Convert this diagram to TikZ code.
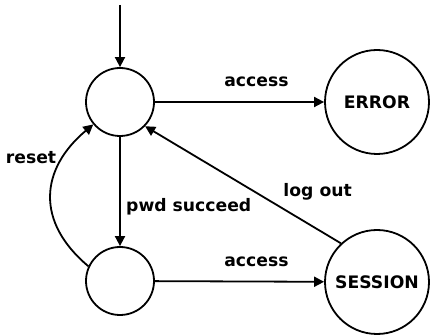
\documentclass[tikz,border=0pt]{standalone}
\usepackage{fontspec}
\setmainfont{DejaVu Sans}
\usepackage{tikz}
\usetikzlibrary{arrows.meta}

\tikzset{
  stnode/.style={draw, circle, line width=1.8pt, inner sep=0pt},
  trans/.style={-{Triangle[length=10pt,width=10pt]}, line width=1.8pt},
  lbl/.style={font=\bfseries\fontsize{17.2}{20}\selectfont}
}

\begin{document}
\begin{tikzpicture}[x=1pt,y=1pt]
        
        \useasboundingbox (0,0) rectangle (430,334);
        
        % states
        \node[stnode, minimum size=68pt] (s0) at (120,232) {};
        \node[stnode, minimum size=68pt] (s1) at (120,53) {};
        \node[stnode, lbl, minimum size=104pt] (err) at (377,232) {ERROR};
        \node[stnode, lbl, minimum size=104pt] (ses) at (377,52) {SESSION};
        \coordinate (start) at (120,329);
        
        % transitions
        \draw [trans] (start) -- (s0);
        \draw [trans] (s0) -- node[lbl, pos=0.6, above=11pt] {access} (err);
        \draw [trans] (s1) -- node[lbl, pos=0.6, above=11pt] {access} (ses);
        \draw [trans] (s0) -- node[lbl, pos=0.64, right=2pt] {pwd succeed} (s1);
        \draw [trans] (ses.133) -- node[lbl, pos=0.32, above right=1pt] {log out} (s0.-44);
        \draw [trans] (s1.155) to[out=140, in=220, looseness=1.25]
                node[lbl, pos=0.76, left=3pt] {reset} (s0.220);
        
        \end{tikzpicture}
\end{document}
